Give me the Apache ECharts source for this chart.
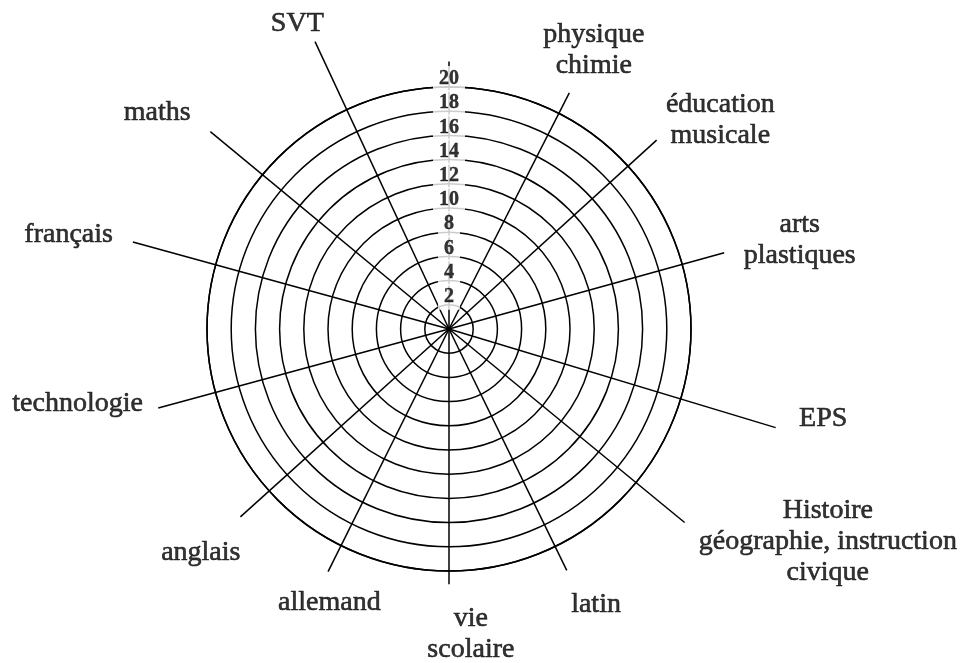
<!DOCTYPE html>
<html>
<head>
<meta charset="utf-8">
<script src="https://cdn.jsdelivr.net/npm/echarts@6/dist/echarts.min.js"></script>
<style>
html,body{margin:0;padding:0;background:#fff;}
#chart{width:971px;height:663px;}
</style>
</head>
<body>
<div id="chart"></div>
<script>
// Subjects (clockwise from top)
const subjects = ['SVT', 'physique\nchimie', 'éducation\nmusicale', 'arts\nplastiques', 'EPS',
  'Histoire\ngéographie, instruction\ncivique', 'latin', 'vie\nscolaire', 'allemand', 'anglais',
  'technologie', 'français', 'maths'];
// Direction of each spoke (degrees clockwise from top)
const spokeAngles = [335, 27, 47.7, 74.5, 106.8, 129.4, 154, 180, 206.5, 228, 254.8, 285.4, 309.6];
// Length of each spoke, in scale units (scale goes 0-20)
const spokeLengths = [26.2, 21.9, 23.2, 23.6, 28.2, 25.2, 22.2, 21.1, 22.4, 23.2, 24.9, 27.1, 25.6];
// Unlabelled scale axis (top)
const scaleAxisAngle = 0;
const scaleAxisLength = 22.1;
// Tick labels on the scale
const ticks = [2, 4, 6, 8, 10, 12, 14, 16, 18, 20];

// Label placement (polar: radius in scale units, angle in degrees)
const labelLayout = {
  radius: [28.2, 26.0, 28.3, 29.9, 31.8, 35.9, 25.8, 25.3, 24.7, 27.6, 31.3, 32.4, 30.0],
  angle:  [333.6, 27.4, 52.4, 75.8, 103.5, 119.3, 151.9, 175.9, 203.6, 228.0, 258.7, 284.0, 306.5]
};

const FONT = "'Liberation Serif', 'DejaVu Serif', serif";
const CX = 449, CY = 329, R = 242;   // grid circle of value 20

const series = [];
const spokeA = [scaleAxisAngle].concat(spokeAngles);
const spokeL = [scaleAxisLength].concat(spokeLengths);
spokeA.forEach((a, i) => {
  series.push({
    type: 'line',
    coordinateSystem: 'polar',
    polarIndex: 1,
    data: [[0, a], [spokeL[i], a]],
    showSymbol: false,
    symbol: 'none',
    clip: false,
    silent: true,
    z: 2,
    lineStyle: { color: '#000', width: 1.5 }
  });
});

series.push({
  type: 'scatter',
  coordinateSystem: 'polar',
  polarIndex: 1,
  symbolSize: 1,
  itemStyle: { color: 'rgba(0,0,0,0)' },
  silent: true,
  z: 5,
  data: subjects.map((s, i) => ({ value: [labelLayout.radius[i], labelLayout.angle[i]], name: s })),
  label: {
    show: true,
    position: 'inside',
    formatter: p => p.name,
    color: '#000',
    textBorderColor: '#000',
    textBorderWidth: 0.6,
    fontFamily: FONT,
    fontSize: 28,
    lineHeight: 31,
    align: 'center',
    verticalAlign: 'middle'
  }
});

series.push({
  type: 'scatter',
  coordinateSystem: 'polar',
  polarIndex: 1,
  symbolSize: 1,
  itemStyle: { color: 'rgba(0,0,0,0)' },
  silent: true,
  z: 10,
  data: ticks.map(t => [t, 0]),
  label: {
    show: true,
    position: 'inside',
    offset: [0, -8],
    formatter: p => String(p.value[0]),
    color: '#000',
    textBorderColor: '#000',
    textBorderWidth: 0.4,
    fontFamily: FONT,
    fontWeight: 'bold',
    fontSize: 20,
    lineHeight: 20,
    backgroundColor: '#fff',
    borderWidth: 0,
    padding: [3, 6, 3, 6]
  }
});

const hiddenRadius = {
  type: 'value', min: 0, max: 40, polarIndex: 1,
  axisLine: { show: false }, axisTick: { show: false }, axisLabel: { show: false },
  splitLine: { show: false }
};
const hiddenAngle = {
  type: 'value', min: 0, max: 360, startAngle: 90, clockwise: true, polarIndex: 1,
  axisLine: { show: false }, axisTick: { show: false }, axisLabel: { show: false },
  splitLine: { show: false }
};

const chart = echarts.init(document.getElementById('chart'), null, { renderer: 'canvas' });
chart.setOption({
  animation: false,
  backgroundColor: '#fff',
  polar: [
    { center: [CX, CY], radius: R },
    { center: [CX, CY], radius: R * 2 }
  ],
  radiusAxis: [{
    type: 'value', min: 0, max: 20, interval: 2, polarIndex: 0,
    axisLine: { show: false }, axisTick: { show: false }, axisLabel: { show: false },
    splitLine: { show: true, lineStyle: { color: '#000', width: 1.5 } }
  }, hiddenRadius],
  angleAxis: [{
    type: 'value', min: 0, max: 360, startAngle: 90, clockwise: true, polarIndex: 0,
    axisLine: { show: true, lineStyle: { color: '#000', width: 1.5 } },
    axisTick: { show: false }, axisLabel: { show: false },
    splitLine: { show: false }
  }, hiddenAngle],
  series: series
});
</script>
</body>
</html>
